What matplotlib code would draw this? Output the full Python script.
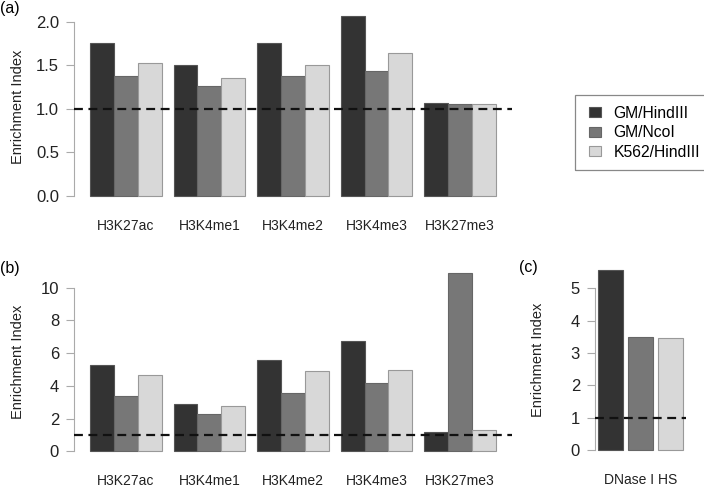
import matplotlib.pyplot as plt
import numpy as np
from matplotlib.patches import Patch, Rectangle

marks = ["H3K27ac", "H3K4me1", "H3K4me2", "H3K4me3", "H3K27me3"]
series = ["GM/HindIII", "GM/NcoI", "K562/HindIII"]
colors = ["#333333", "#777777", "#d8d8d8"]
edges = ["#555555", "#666666", "#999999"]

# panel (a)
a_gm_hind = [1.76, 1.50, 1.75, 2.06, 1.07]
a_gm_nco = [1.38, 1.26, 1.38, 1.43, 1.05]
a_k562 = [1.52, 1.35, 1.50, 1.64, 1.06]

# panel (b)
b_gm_hind = [5.25, 2.87, 5.58, 6.76, 1.16]
b_gm_nco = [3.40, 2.26, 3.56, 4.18, 10.88]
b_k562 = [4.64, 2.77, 4.89, 4.95, 1.28]

# panel (c)
c_label = "DNase I HS"
c_vals = [5.57, 3.49, 3.48]

plt.rcParams['font.family'] = ['Liberation Sans', 'DejaVu Sans']

W, H = 704, 494
fig = plt.figure(figsize=(W / 100, H / 100), dpi=100)


def px_axes(left, right, top, bottom):
    return fig.add_axes([left / W, 1 - bottom / H, (right - left) / W, (bottom - top) / H])


def style(ax, ymax, ticks, fmt):
    for s in ["top", "right", "bottom"]:
        ax.spines[s].set_visible(False)
    ax.spines["left"].set_color("#aaaaaa")
    ax.spines["left"].set_bounds(0, ymax)
    ax.set_yticks(ticks)
    ax.set_yticklabels([fmt.format(t) for t in ticks])
    ax.tick_params(axis="y", length=5.5, width=0.8, color="#aaaaaa",
                   pad=5, labelsize=12, labelcolor="#222222")
    ax.tick_params(axis="x", length=0, pad=11.5, labelsize=10, labelcolor="#222222")
    ax.set_ylabel("Enrichment Index", fontsize=10.5, color="#222222")
    ax.axhline(1.0, color="#111111", lw=1.6, dashes=(4, 2.5), zorder=5)


def grouped(ax, data):
    lefts = np.arange(len(marks)) * 3.5
    for j, vals in enumerate(data):
        ax.bar(lefts + j + 0.5, vals, width=1.0, color=colors[j],
               edgecolor=edges[j], linewidth=0.8)
    ax.set_xticks(lefts + 1.5)
    ax.set_xticklabels(marks)
    ax.set_xlim(-0.68, 17.68)


ax_a = px_axes(73.7, 512.2, 9.5, 203.2)
grouped(ax_a, [a_gm_hind, a_gm_nco, a_k562])
ax_a.set_ylim(-0.082, 2.139)
style(ax_a, 2.0, [0.0, 0.5, 1.0, 1.5, 2.0], "{:.1f}")
ax_a.yaxis.set_label_coords(-0.112, 0.5)

ax_b = px_axes(73.7, 512.2, 266.2, 458.4)
grouped(ax_b, [b_gm_hind, b_gm_nco, b_k562])
ax_b.set_ylim(-0.435, 11.315)
style(ax_b, 10, [0, 2, 4, 6, 8, 10], "{:d}")
ax_b.yaxis.set_label_coords(-0.112, 0.5)

ax_c = px_axes(594.6, 686.4, 262.7, 457.5)
pos = 0.7 + 1.2 * np.arange(3)
for j in range(3):
    ax_c.bar(pos[j], c_vals[j], width=1.0, color=colors[j],
             edgecolor=edges[j], linewidth=0.8)
ax_c.set_xlim(0.064, 3.736)
ax_c.set_ylim(-0.223, 5.79)
ax_c.set_xticks([pos[1]])
ax_c.set_xticklabels([c_label])
style(ax_c, 5, [0, 1, 2, 3, 4, 5], "{:d}")
ax_c.yaxis.set_label_coords(-0.535, 0.5)

fig.text(0 / W, 1 - 8 / H, "(a)", fontsize=11.5, va="center", ha="left")
fig.text(0 / W, 1 - 268 / H, "(b)", fontsize=11.5, va="center", ha="left")
fig.text(519 / W, 1 - 267 / H, "(c)", fontsize=11.5, va="center", ha="left")

# legend box runs off the right edge, as in the source figure
fig.patches.append(Rectangle((575 / W, 1 - 170 / H), 150 / W, 75 / H,
                             transform=fig.transFigure, fill=False,
                             edgecolor="#888888", linewidth=0.9))
handles = [Patch(facecolor=colors[j], edgecolor=edges[j], linewidth=0.8) for j in range(3)]
fig.legend(handles, series, loc="upper left",
           bbox_to_anchor=(589 / W, 1 - 106 / H), fontsize=11.3,
           frameon=False, handlelength=0.75, handleheight=0.6,
           handletextpad=0.8, labelspacing=0.28, borderpad=0,
           borderaxespad=0)

fig.savefig("out.png", dpi=100)
